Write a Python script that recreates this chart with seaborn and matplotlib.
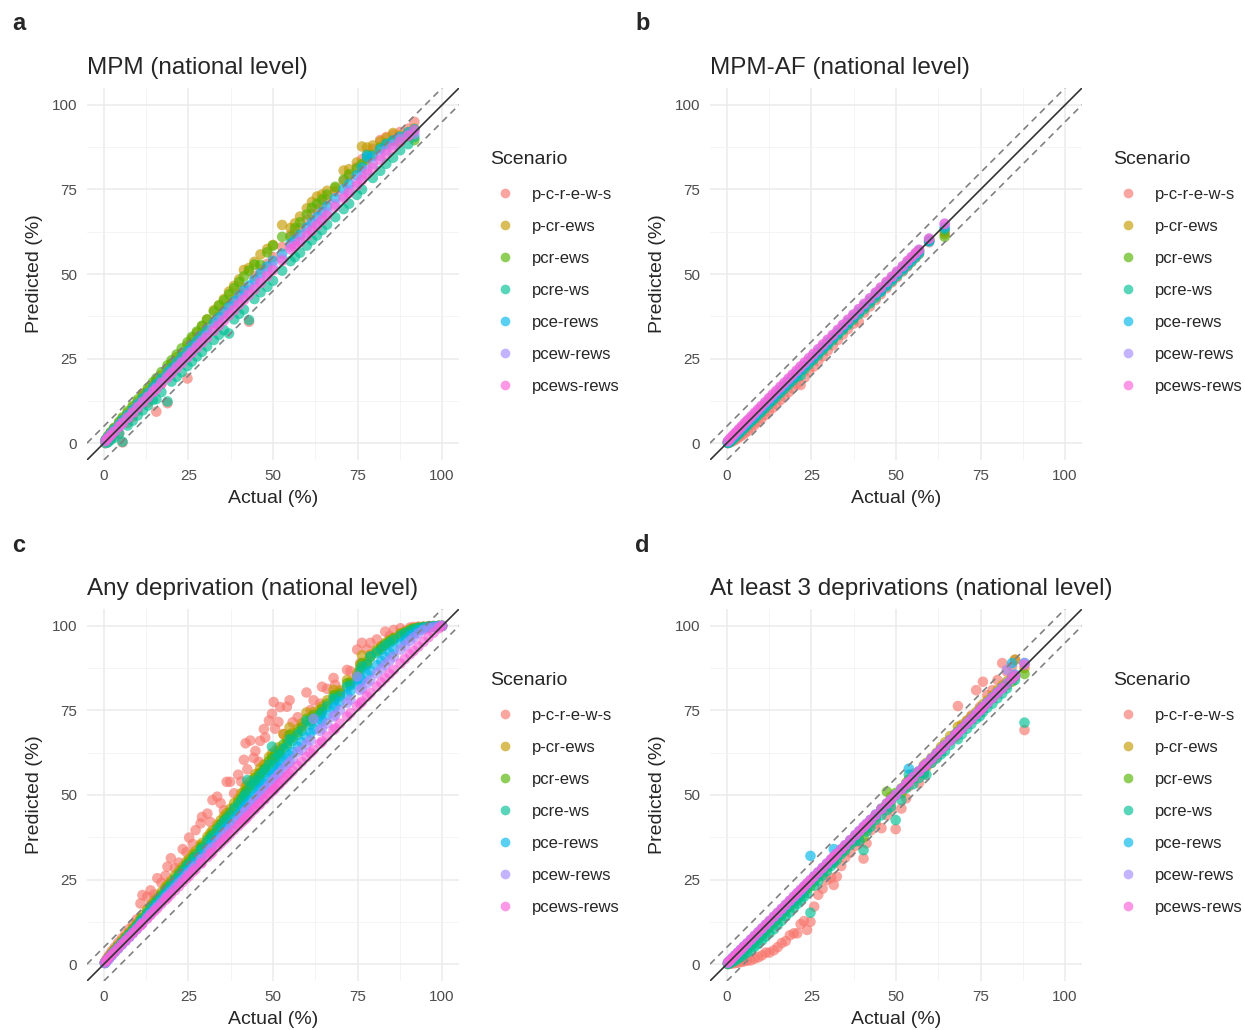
import matplotlib
matplotlib.use("Agg")
import matplotlib.pyplot as plt
import seaborn as sns
import pandas as pd
from matplotlib.lines import Line2D
from matplotlib.ticker import MultipleLocator

sns.set_style("white")
plt.rcParams["font.family"] = ["Liberation Sans", "DejaVu Sans"]

# ---------------- shared ----------------
scenarios = ["p-c-r-e-w-s", "p-cr-ews", "pcr-ews", "pcre-ws", "pce-rews", "pcew-rews", "pcews-rews"]
palette = ["#F8766D", "#C49A00", "#53B400", "#00C094", "#00B6EB", "#A58AFF", "#FB61D7"]
ticks = [0, 25, 50, 75, 100]
tick_labels = ["0", "25", "50", "75", "100"]

# ---------------- panel a: MPM ----------------
a_actual = [0.5, 1.2, 2.0, 3.0, 4.5, 5.5, 7.0, 8.5, 10.0, 11.5,
            13.0, 14.5, 15.5, 17.0, 18.8, 20.0, 21.5, 23.0, 24.7, 26.0,
            27.5, 29.0, 30.5, 32.5, 34.0, 35.5, 37.0, 38.5, 40.0, 41.4,
            42.9, 44.5, 46.3, 48.3, 50.0, 52.7, 55.2, 56.5, 58.0, 60.0,
            61.5, 63.0, 64.5, 66.0, 68.4, 70.9, 72.5, 74.8, 76.3, 77.8,
            79.5, 81.7, 83.5, 85.5, 87.6, 90.0, 91.8]
a_p_c_r_e_w_s = [0.0, 0.6, 1.4, 2.2, 2.8, 0.2, 6.0, 7.8, 9.6, 14.7,
                 12.0, 15.8, 9.3, 17.5, 11.8, 21.0, 23.0, 24.8, 19.1, 28.2,
                 30.0, 31.5, 33.4, 35.5, 37.4, 39.0, 40.8, 42.6, 44.2, 46.0,
                 35.9, 49.3, 51.3, 53.0, 55.0, 58.0, 61.5, 62.0, 63.6, 66.0,
                 67.8, 69.1, 70.5, 72.0, 74.4, 77.5, 79.0, 81.6, 83.9, 85.5,
                 87.0, 89.6, 90.5, 91.2, 92.0, 93.0, 95.0]
a_p_cr_ews = [1.0, 2.0, 3.1, 4.3, 6.0, 7.2, 8.9, 10.6, 12.3, 13.9,
              15.6, 17.2, 18.4, 20.1, 22.1, 23.6, 25.4, 26.6, 29.0, 30.8,
              32.6, 34.5, 36.6, 39.3, 40.8, 42.6, 44.8, 46.5, 48.4, 51.2,
              51.8, 53.6, 55.8, 57.4, 58.6, 64.5, 63.6, 65.0, 67.0, 69.4,
              71.3, 72.9, 73.5, 74.6, 75.4, 80.6, 81.0, 83.0, 87.7, 87.4,
              88.0, 89.2, 90.2, 91.7, 91.0, 92.0, 93.0]
a_pcr_ews = [0.9, 2.0, 3.2, 4.5, 6.3, 7.6, 9.4, 11.0, 12.9, 14.5,
             16.3, 18.0, 19.2, 21.0, 23.0, 24.5, 26.2, 28.0, 29.8, 31.4,
             33.0, 34.7, 36.5, 38.9, 40.6, 42.2, 44.0, 45.8, 47.6, 49.3,
             51.0, 52.8, 52.7, 56.4, 58.4, 61.0, 61.0, 63.5, 65.3, 67.6,
             69.6, 70.8, 72.0, 73.5, 75.8, 77.9, 79.5, 81.2, 82.5, 83.7,
             85.2, 87.4, 88.6, 89.4, 89.1, 90.8, 89.6]
a_pcre_ws = [0.0, 0.2, 0.9, 1.6, 2.9, 0.4, 5.2, 6.6, 8.2, 9.7,
             11.1, 12.8, 13.0, 15.1, 12.3, 18.2, 19.6, 21.0, 22.8, 24.1,
             25.6, 27.0, 28.6, 30.5, 32.0, 33.4, 32.4, 36.6, 38.2, 39.5,
             36.4, 42.6, 44.6, 46.2, 48.0, 51.0, 53.8, 55.0, 56.3, 58.4,
             60.0, 61.4, 63.0, 64.6, 66.8, 69.2, 70.8, 73.4, 75.0, 85.2,
             78.4, 80.5, 82.6, 84.4, 86.6, 88.4, 90.5]
a_pce_rews = [0.9, 1.8, 2.8, 4.0, 5.5, 6.8, 8.3, 9.9, 11.6, 13.2,
              14.8, 16.3, 17.5, 19.1, 20.9, 22.2, 23.8, 25.5, 27.2, 28.7,
              30.2, 31.8, 33.4, 35.6, 37.1, 38.6, 40.3, 41.9, 43.5, 45.1,
              46.6, 48.3, 50.2, 52.2, 53.9, 56.0, 59.0, 60.1, 61.6, 63.7,
              65.2, 66.8, 68.3, 70.0, 72.4, 75.1, 76.6, 79.2, 81.5, 84.6,
              84.8, 86.9, 88.4, 89.5, 90.6, 91.9, 92.8]
a_pcew_rews = [0.7, 1.5, 2.4, 3.5, 5.0, 6.1, 7.6, 9.2, 10.8, 12.3,
               13.8, 15.3, 16.4, 18.0, 19.7, 21.0, 22.6, 24.1, 25.8, 27.2,
               28.8, 30.3, 31.8, 33.9, 35.4, 36.9, 38.5, 40.0, 41.6, 43.0,
               44.6, 46.2, 48.0, 50.1, 52.0, 54.6, 58.0, 58.9, 60.2, 62.1,
               63.6, 65.0, 66.5, 68.2, 70.6, 73.0, 74.8, 77.0, 78.9, 80.7,
               82.6, 84.9, 86.6, 88.2, 89.9, 91.0, 91.5]
a_pcews_rews = [0.6, 1.4, 2.3, 3.3, 4.8, 5.9, 7.4, 8.9, 10.5, 12.0,
                13.5, 15.0, 16.0, 17.6, 19.3, 20.6, 22.1, 23.6, 25.3, 26.7,
                28.2, 29.7, 31.2, 33.2, 34.7, 36.2, 37.8, 39.3, 40.9, 42.3,
                43.8, 45.4, 47.3, 49.3, 51.1, 53.9, 57.3, 58.2, 59.4, 61.3,
                62.8, 64.3, 65.8, 67.3, 69.8, 72.3, 73.9, 76.1, 77.8, 79.6,
                81.4, 83.7, 85.5, 87.3, 89.1, 90.8, 92.5]

# ---------------- panel b: MPM-AF ----------------
b_actual = [0.3, 1.0, 1.8, 2.6, 3.5, 4.4, 5.3, 6.2, 7.2, 8.2,
            9.2, 10.2, 11.3, 12.4, 13.5, 14.6, 15.8, 17.0, 18.2, 19.4,
            20.6, 21.8, 23.0, 24.3, 25.6, 27.0, 28.4, 29.8, 31.3, 32.8,
            34.3, 35.8, 37.4, 39.0, 40.6, 42.3, 44.0, 45.5, 47.2, 48.8,
            50.3, 52.0, 53.4, 54.6, 55.8, 56.8, 59.8, 64.4]
b_p_c_r_e_w_s = [0.0, 0.2, 0.6, 1.0, 1.6, 2.2, 2.9, 3.6, 4.5, 5.4,
                 6.3, 7.3, 8.3, 9.3, 10.4, 11.5, 12.7, 13.8, 15.0, 16.2,
                 17.4, 17.2, 19.4, 21.3, 22.6, 24.2, 25.7, 27.3, 28.9, 30.5,
                 32.1, 33.7, 35.3, 35.9, 38.6, 40.4, 42.3, 44.0, 45.8, 47.5,
                 49.0, 50.7, 52.2, 53.5, 54.8, 55.9, 59.4, 62.5]
b_p_cr_ews = [0.2, 0.8, 1.6, 2.4, 3.3, 4.2, 5.1, 6.0, 7.0, 8.0,
              9.0, 10.0, 11.1, 12.2, 13.3, 14.4, 15.6, 16.8, 18.0, 19.2,
              20.4, 21.6, 22.8, 24.1, 25.4, 26.8, 28.2, 29.6, 31.1, 32.6,
              34.1, 35.6, 37.2, 38.8, 40.4, 42.1, 43.8, 45.4, 47.0, 48.7,
              50.2, 51.8, 53.3, 54.5, 55.8, 56.9, 60.1, 61.8]
b_pcr_ews = [0.1, 0.6, 1.4, 2.2, 3.1, 4.0, 4.9, 5.8, 6.8, 7.8,
             8.8, 9.8, 10.9, 12.0, 13.1, 14.2, 15.4, 16.6, 17.8, 19.0,
             20.2, 21.4, 22.6, 23.9, 25.2, 26.6, 28.0, 29.4, 30.9, 32.4,
             33.9, 35.4, 37.0, 38.6, 40.2, 41.9, 43.6, 45.2, 46.9, 48.5,
             50.0, 51.7, 53.1, 54.3, 55.5, 56.6, 59.9, 61.0]
b_pcre_ws = [0.0, 0.3, 1.0, 1.8, 2.6, 3.5, 4.4, 5.3, 6.3, 7.2,
             8.2, 9.2, 10.3, 11.4, 12.5, 13.6, 14.8, 16.0, 17.2, 18.4,
             19.5, 20.0, 21.9, 23.3, 24.6, 26.0, 27.5, 28.9, 30.4, 31.9,
             33.4, 34.9, 36.5, 38.1, 39.6, 41.3, 43.0, 44.7, 46.3, 47.9,
             49.4, 51.0, 52.4, 53.7, 54.9, 56.0, 59.8, 63.2]
b_pce_rews = [0.2, 0.9, 1.7, 2.5, 3.4, 4.3, 5.2, 6.1, 7.1, 8.1,
              9.1, 10.1, 11.2, 12.3, 13.4, 14.5, 15.7, 16.9, 18.1, 19.3,
              20.5, 21.7, 22.9, 24.2, 25.5, 26.9, 28.3, 29.7, 31.2, 32.7,
              34.2, 35.7, 37.3, 38.9, 40.5, 42.2, 43.9, 45.0, 46.8, 48.5,
              50.0, 51.6, 53.1, 54.3, 55.6, 56.6, 59.6, 63.8]
b_pcew_rews = [0.5, 1.3, 2.1, 3.0, 3.9, 4.8, 5.8, 6.7, 7.7, 8.7,
               9.7, 10.8, 11.9, 13.0, 14.1, 15.2, 16.4, 17.6, 18.8, 20.0,
               21.2, 22.4, 23.6, 24.9, 26.2, 27.6, 29.0, 30.4, 31.9, 33.4,
               34.9, 36.4, 38.0, 39.6, 41.1, 42.8, 44.5, 46.0, 47.6, 49.2,
               50.7, 52.3, 53.8, 55.0, 56.2, 57.2, 60.5, 64.9]
b_pcews_rews = [0.6, 1.4, 2.3, 3.1, 4.1, 5.0, 6.0, 6.9, 7.9, 9.0,
                10.0, 11.0, 12.1, 13.3, 14.4, 15.5, 16.7, 17.9, 19.1, 20.3,
                21.5, 22.7, 23.9, 25.2, 26.4, 27.8, 29.2, 30.6, 32.0, 33.5,
                35.0, 36.5, 38.0, 39.6, 41.2, 42.8, 44.5, 46.0, 47.7, 49.2,
                50.7, 52.3, 53.8, 55.0, 56.1, 57.1, 60.4, 64.8]

# ---------------- panel c: Any deprivation ----------------
c_actual = [0.3, 0.8, 1.5, 2.3, 3.2, 4.2, 5.3, 6.4, 7.5, 8.6,
            9.7, 10.8, 11.4, 12.8, 13.8, 14.9, 15.8, 17.0, 18.2, 18.8,
            19.8, 21.0, 22.2, 23.3, 24.4, 25.2, 26.3, 27.1, 28.6, 29.0,
            30.6, 31.5, 32.1, 33.5, 34.5, 35.5, 36.3, 37.3, 38.5, 39.7,
            40.6, 41.4, 41.9, 42.4, 43.3, 44.3, 44.8, 45.8, 46.2, 47.3,
            47.7, 48.8, 49.7, 50.2, 50.6, 51.6, 52.1, 53.1, 54.1, 54.9,
            55.8, 57.3, 58.5, 59.9, 61.1, 62.0, 63.9, 64.5, 66.0, 67.9,
            68.4, 69.8, 71.9, 72.9, 74.9, 75.8, 76.3, 77.8, 78.8, 80.7,
            82.0, 83.2, 84.5, 85.7, 87.7, 89.0, 90.5, 91.6, 93.0, 94.5,
            96.0, 97.5, 99.0, 100.0]
c_p_c_r_e_w_s = [0.5, 1.5, 2.6, 3.8, 4.9, 6.3, 7.6, 8.9, 10.4, 11.8,
                 13.2, 17.9, 20.4, 19.9, 21.8, 20.6, 25.4, 24.0, 26.1, 28.8,
                 31.3, 28.4, 30.0, 34.0, 33.1, 37.4, 35.5, 39.6, 41.6, 43.5,
                 44.5, 42.0, 48.5, 49.5, 47.6, 45.5, 53.9, 53.9, 50.5, 56.0,
                 54.0, 60.4, 65.3, 57.6, 66.1, 61.0, 63.0, 59.8, 66.0, 69.5,
                 67.0, 72.0, 74.0, 77.5, 69.6, 71.6, 76.0, 68.0, 76.1, 78.0,
                 71.5, 73.0, 70.5, 80.3, 75.1, 78.0, 77.0, 82.0, 81.4, 84.6,
                 82.6, 80.5, 87.0, 86.6, 93.0, 89.0, 95.0, 93.0, 95.0, 96.0,
                 94.0, 98.3, 97.0, 98.8, 99.3, 98.5, 99.5, 99.7, 99.8, 99.8,
                 99.9, 100.0, 100.0, 100.0]
c_p_cr_ews = [0.4, 1.2, 2.2, 3.3, 4.4, 5.6, 6.9, 8.1, 9.4, 10.6,
              11.9, 13.5, 14.5, 16.2, 17.4, 18.8, 19.7, 21.3, 22.8, 23.4,
              24.6, 26.2, 27.5, 28.8, 30.3, 31.2, 32.6, 33.5, 35.2, 35.8,
              37.7, 38.8, 39.5, 41.2, 42.5, 43.8, 44.6, 45.9, 47.6, 48.8,
              50.5, 51.0, 52.5, 52.8, 54.0, 55.0, 56.2, 56.4, 57.9, 59.0,
              58.8, 61.2, 62.3, 60.8, 63.0, 64.1, 63.5, 68.0, 66.5, 70.0,
              68.4, 69.5, 71.2, 74.4, 72.8, 74.5, 75.4, 76.2, 78.0, 81.1,
              79.8, 81.0, 84.0, 83.5, 86.0, 88.5, 91.3, 89.5, 91.5, 93.0,
              94.0, 95.0, 95.8, 96.5, 97.8, 98.2, 99.0, 99.3, 99.5, 99.7,
              99.8, 99.9, 100.0, 100.0]
c_pcr_ews = [0.4, 1.1, 2.0, 3.0, 4.1, 5.3, 6.5, 7.8, 9.0, 10.2,
             11.5, 12.9, 13.7, 15.4, 16.6, 18.0, 19.0, 20.6, 22.0, 22.7,
             23.9, 25.3, 26.8, 28.0, 29.4, 30.3, 31.6, 32.5, 34.3, 34.8,
             36.8, 37.8, 38.5, 40.2, 41.4, 42.6, 43.5, 44.8, 46.3, 47.8,
             49.0, 49.8, 51.0, 51.5, 52.8, 53.6, 55.0, 55.2, 56.4, 57.5,
             57.8, 60.0, 61.0, 59.6, 61.8, 62.9, 62.4, 65.0, 65.2, 67.8,
             67.0, 68.6, 70.0, 72.5, 71.8, 73.6, 74.2, 75.3, 77.0, 79.5,
             79.0, 80.0, 83.0, 83.0, 85.2, 87.5, 89.0, 88.8, 90.8, 92.5,
             93.5, 94.6, 95.5, 96.3, 97.5, 98.0, 98.8, 99.2, 99.5, 99.7,
             99.8, 99.9, 100.0, 100.0]
c_pcre_ws = [0.4, 1.0, 1.9, 2.9, 3.9, 5.0, 6.3, 7.5, 8.7, 9.9,
             11.2, 12.6, 13.3, 15.0, 16.2, 17.5, 18.5, 20.0, 21.5, 22.1,
             23.3, 24.8, 26.1, 27.4, 28.8, 29.6, 31.0, 31.8, 33.6, 34.2,
             36.2, 37.0, 37.9, 39.6, 40.7, 42.0, 42.8, 44.0, 45.8, 47.0,
             48.3, 49.5, 50.3, 54.4, 52.0, 53.0, 54.3, 54.0, 55.8, 56.5,
             57.5, 59.0, 64.3, 58.8, 60.8, 62.0, 61.5, 63.6, 64.3, 66.5,
             66.0, 67.8, 69.0, 71.8, 70.8, 72.6, 73.5, 74.5, 76.2, 78.5,
             78.2, 79.2, 82.0, 82.4, 84.5, 86.5, 88.0, 88.4, 91.0, 92.0,
             93.0, 94.2, 95.0, 95.8, 97.0, 97.8, 98.5, 99.0, 99.4, 99.6,
             99.8, 99.9, 100.0, 100.0]
c_pce_rews = [0.3, 0.9, 1.7, 2.6, 3.6, 4.7, 5.9, 7.0, 8.2, 9.4,
              10.6, 11.9, 12.6, 14.2, 15.3, 16.6, 17.6, 19.0, 20.3, 20.9,
              22.0, 23.4, 24.7, 25.9, 27.1, 28.0, 29.3, 30.1, 31.8, 32.3,
              34.1, 35.1, 35.8, 37.3, 38.4, 39.5, 40.4, 41.5, 42.9, 44.2,
              45.2, 46.2, 46.8, 47.4, 48.4, 49.5, 50.1, 51.3, 51.8, 53.0,
              53.5, 54.8, 55.8, 56.3, 56.8, 58.0, 58.6, 59.7, 60.8, 61.7,
              62.7, 64.3, 65.6, 67.1, 68.4, 69.4, 71.4, 72.0, 73.6, 75.6,
              76.1, 77.6, 79.7, 80.7, 82.7, 83.6, 84.1, 85.6, 86.6, 88.4,
              89.6, 90.8, 92.0, 93.0, 94.8, 95.8, 97.0, 97.8, 98.7, 99.3,
              99.6, 99.8, 99.9, 100.0]
c_pcew_rews = [0.3, 0.9, 1.6, 2.5, 3.5, 4.5, 5.7, 6.8, 7.9, 9.1,
               10.3, 11.5, 12.2, 13.7, 14.8, 16.0, 17.0, 18.3, 19.6, 20.2,
               21.3, 22.6, 23.9, 25.0, 26.2, 27.1, 28.3, 29.1, 30.8, 31.2,
               33.0, 34.0, 34.6, 36.1, 37.2, 38.2, 39.1, 40.2, 41.5, 42.8,
               43.8, 44.7, 45.3, 45.8, 46.8, 47.9, 48.4, 49.5, 50.0, 51.2,
               51.7, 52.9, 53.9, 54.5, 54.9, 56.0, 56.5, 57.6, 58.7, 59.5,
               60.5, 62.7, 63.3, 65.0, 66.2, 72.5, 69.0, 69.7, 71.2, 73.2,
               73.6, 75.1, 77.2, 78.2, 85.0, 81.0, 81.5, 83.0, 84.0, 86.0,
               87.3, 88.5, 89.8, 90.9, 93.0, 94.2, 95.6, 96.6, 97.8, 98.8,
               99.3, 99.6, 99.9, 100.0]
c_pcews_rews = [0.5, 1.1, 1.9, 2.8, 3.7, 4.8, 5.9, 7.0, 8.1, 9.2,
                10.3, 11.4, 12.0, 13.4, 14.5, 15.6, 16.5, 17.8, 19.0, 19.6,
                20.6, 21.8, 23.0, 24.2, 25.3, 26.1, 27.3, 28.0, 29.6, 30.0,
                31.6, 32.5, 33.1, 34.6, 35.6, 36.6, 37.4, 38.4, 39.6, 40.8,
                41.7, 42.5, 43.0, 43.5, 44.4, 45.5, 46.0, 47.0, 47.4, 48.5,
                48.9, 50.1, 51.0, 51.5, 51.9, 52.9, 53.4, 54.4, 55.4, 56.2,
                57.1, 58.6, 59.8, 61.2, 62.4, 63.3, 65.2, 65.8, 67.3, 69.2,
                69.7, 71.1, 73.2, 74.2, 76.2, 77.1, 77.6, 79.1, 80.1, 82.0,
                83.3, 84.5, 85.8, 87.0, 88.9, 90.2, 91.6, 92.6, 93.9, 95.3,
                96.7, 98.0, 99.3, 100.0]

# ---------------- panel d: At least 3 deprivations ----------------
d_actual = [0.3, 0.9, 1.6, 2.4, 3.2, 4.1, 5.0, 6.0, 7.1, 8.2,
            9.3, 10.4, 11.5, 12.6, 13.9, 15.0, 16.2, 17.4, 18.6, 19.8,
            20.8, 21.8, 22.8, 23.7, 24.7, 25.8, 27.0, 28.3, 29.6, 30.8,
            31.6, 32.5, 33.8, 35.0, 36.5, 38.0, 39.2, 40.4, 41.3, 42.5,
            44.0, 45.7, 47.3, 48.5, 49.9, 51.6, 53.0, 53.8, 55.1, 56.8,
            58.2, 59.0, 60.5, 62.0, 63.3, 64.5, 66.0, 67.5, 68.3, 69.5,
            71.0, 72.3, 73.7, 74.8, 75.7, 77.0, 78.5, 80.0, 81.4, 82.8,
            84.3, 85.2, 88.0]
d_p_c_r_e_w_s = [0.0, 0.1, 0.2, 0.3, 0.4, 0.6, 0.8, 1.0, 1.1, 1.6,
                 2.0, 2.6, 3.4, 3.4, 4.1, 5.0, 6.2, 6.8, 8.5, 9.1,
                 9.1, 11.8, 12.7, 10.1, 12.5, 17.0, 20.5, 22.3, 24.9, 25.5,
                 23.4, 25.9, 29.0, 31.5, 33.0, 35.0, 36.2, 31.2, 35.7, 39.5,
                 41.5, 40.2, 44.0, 46.0, 39.9, 46.0, 49.0, 52.5, 56.3, 53.5,
                 56.0, 58.3, 59.5, 61.0, 62.8, 64.5, 66.0, 67.0, 76.3, 70.3,
                 72.0, 73.5, 81.0, 76.0, 83.5, 79.5, 81.0, 84.0, 89.0, 86.5,
                 88.0, 90.0, 69.2]
d_p_cr_ews = [0.2, 0.6, 1.2, 1.9, 2.6, 3.4, 4.2, 5.1, 6.2, 7.2,
              8.3, 9.4, 10.5, 11.6, 12.9, 14.0, 15.3, 16.5, 17.7, 19.0,
              20.0, 21.0, 22.0, 22.9, 23.9, 25.1, 26.4, 27.8, 29.1, 30.3,
              31.2, 32.2, 33.5, 34.8, 36.3, 37.8, 39.0, 39.8, 41.0, 42.5,
              44.0, 45.6, 47.5, 49.5, 50.0, 52.0, 53.6, 54.5, 55.5, 57.0,
              58.8, 59.5, 61.0, 62.5, 64.2, 65.6, 67.4, 68.0, 70.2, 70.8,
              72.0, 73.2, 74.5, 75.5, 76.8, 78.0, 79.5, 81.0, 82.4, 83.6,
              85.0, 90.0, 87.5]
d_pcr_ews = [0.1, 0.5, 1.0, 1.6, 2.3, 3.0, 3.7, 4.6, 5.6, 6.6,
             7.6, 8.7, 9.8, 10.9, 12.2, 13.3, 14.6, 15.8, 17.0, 18.3,
             19.3, 20.3, 21.3, 22.2, 23.0, 24.5, 25.8, 27.2, 28.5, 29.8,
             30.6, 31.6, 33.0, 34.2, 35.8, 37.2, 38.5, 37.5, 40.0, 41.8,
             43.5, 46.0, 51.0, 48.0, 50.6, 50.5, 52.5, 54.5, 54.8, 56.5,
             58.0, 58.6, 60.5, 62.0, 63.4, 64.8, 66.2, 67.5, 68.8, 69.6,
             71.0, 72.3, 73.8, 74.5, 75.6, 77.0, 78.6, 80.0, 81.6, 82.5,
             83.5, 85.0, 85.8]
d_pcre_ws = [0.0, 0.3, 0.6, 1.0, 1.5, 2.1, 2.7, 3.4, 4.2, 5.1,
             6.0, 7.0, 8.1, 9.1, 10.3, 11.5, 12.8, 14.1, 15.3, 16.6,
             17.8, 18.8, 19.9, 21.0, 15.2, 23.2, 24.6, 26.2, 27.5, 29.0,
             29.9, 30.8, 32.5, 33.6, 35.2, 36.3, 36.5, 33.7, 39.2, 40.6,
             42.6, 44.0, 45.5, 46.5, 42.6, 48.5, 52.0, 56.0, 53.2, 55.0,
             56.5, 56.0, 59.5, 60.8, 62.0, 63.0, 64.8, 67.7, 66.5, 68.0,
             69.6, 71.0, 72.5, 73.3, 74.5, 75.8, 77.0, 78.6, 80.0, 81.5,
             84.5, 84.0, 71.4]
d_pce_rews = [0.4, 1.0, 1.7, 2.5, 3.3, 4.2, 5.1, 6.0, 7.1, 8.1,
              9.2, 10.3, 11.4, 12.5, 13.7, 14.8, 16.0, 17.2, 18.4, 19.6,
              20.6, 21.6, 22.6, 23.6, 32.0, 25.8, 27.0, 28.3, 29.6, 30.8,
              34.0, 32.6, 33.9, 35.1, 36.6, 38.1, 39.3, 40.5, 41.4, 42.6,
              44.2, 45.8, 47.4, 48.6, 50.0, 51.8, 53.2, 57.8, 55.3, 57.0,
              58.4, 59.2, 60.7, 62.2, 63.5, 64.7, 66.2, 67.7, 68.5, 69.7,
              71.2, 72.5, 73.9, 75.0, 76.0, 77.3, 78.8, 80.3, 81.7, 83.0,
              89.0, 85.6, 89.0]
d_pcew_rews = [0.5, 1.1, 1.8, 2.6, 3.4, 4.3, 5.2, 6.2, 7.3, 8.4,
               9.5, 10.6, 11.7, 12.8, 14.1, 15.2, 16.4, 17.6, 18.8, 20.0,
               21.0, 22.0, 23.0, 23.9, 24.9, 26.0, 27.2, 28.5, 29.8, 31.0,
               31.8, 32.7, 34.0, 35.2, 36.7, 38.2, 39.4, 40.6, 41.5, 42.7,
               44.2, 45.9, 47.5, 48.7, 50.1, 51.8, 53.2, 54.0, 55.3, 57.0,
               58.4, 59.2, 60.7, 62.2, 63.5, 64.7, 66.2, 67.7, 68.5, 69.7,
               71.2, 72.5, 73.9, 75.0, 76.0, 77.3, 78.8, 80.3, 81.6, 87.0,
               84.5, 85.4, 89.0]
d_pcews_rews = [0.4, 1.0, 1.7, 2.5, 3.3, 4.2, 5.1, 6.1, 7.2, 8.3,
                9.4, 10.5, 11.6, 12.7, 14.0, 15.1, 16.3, 17.5, 18.7, 19.9,
                20.9, 21.9, 22.9, 23.8, 24.8, 25.9, 27.1, 28.4, 29.7, 30.9,
                31.7, 32.6, 33.9, 35.1, 36.6, 38.1, 39.3, 40.5, 41.4, 42.6,
                44.1, 45.8, 47.4, 48.6, 50.0, 51.7, 53.1, 53.9, 55.2, 56.9,
                58.3, 59.1, 60.6, 62.1, 63.4, 64.6, 66.1, 67.6, 68.4, 69.6,
                71.1, 72.4, 73.8, 74.9, 75.8, 77.1, 78.6, 80.1, 81.5, 82.9,
                84.4, 85.3, 88.5]


def build(actual, preds):
    frames = [pd.DataFrame({"actual": actual, "predicted": p, "scenario": name})
              for name, p in zip(scenarios, preds)]
    return pd.concat(frames, ignore_index=True)


df_a = build(a_actual, [a_p_c_r_e_w_s, a_p_cr_ews, a_pcr_ews, a_pcre_ws, a_pce_rews, a_pcew_rews, a_pcews_rews])
df_b = build(b_actual, [b_p_c_r_e_w_s, b_p_cr_ews, b_pcr_ews, b_pcre_ws, b_pce_rews, b_pcew_rews, b_pcews_rews])
df_c = build(c_actual, [c_p_c_r_e_w_s, c_p_cr_ews, c_pcr_ews, c_pcre_ws, c_pce_rews, c_pcew_rews, c_pcews_rews])
df_d = build(d_actual, [d_p_c_r_e_w_s, d_p_cr_ews, d_pcr_ews, d_pcre_ws, d_pce_rews, d_pcew_rews, d_pcews_rews])

W, H = 1245, 1030
fig = plt.figure(figsize=(W / 100, H / 100), dpi=100)

panels = [
    ("a", "MPM (national level)", df_a, 87, 88, 12, 24, 490, 151),
    ("b", "MPM-AF (national level)", df_b, 710, 88, 635, 24, 1113, 151),
    ("c", "Any deprivation (national level)", df_c, 87, 609, 12, 546, 490, 672),
    ("d", "At least 3 deprivations (national level)", df_d, 710, 609, 635, 546, 1113, 672),
]

SIZE = 372
for tag, title, df, left, top, tx, ty, lx, ly in panels:
    ax = fig.add_axes([left / W, 1 - (top + SIZE) / H, SIZE / W, SIZE / H])
    sns.scatterplot(data=df, x="actual", y="predicted", hue="scenario",
                    hue_order=scenarios, palette=palette, s=58, alpha=0.65,
                    linewidth=0, legend=False, ax=ax, zorder=2)
    ax.axline((0, 0), (1, 1), color="#333333", lw=1.2, zorder=4)
    ax.axline((0, 5), (1, 6), color="#808080", lw=1.2, ls=(0, (4, 3)), zorder=3)
    ax.axline((0, -5), (1, -4), color="#808080", lw=1.2, ls=(0, (4, 3)), zorder=3)
    ax.set_xlim(-5, 105)
    ax.set_ylim(-5, 105)
    ax.set_xticks(ticks)
    ax.set_xticklabels(tick_labels)
    ax.set_yticks(ticks)
    ax.set_yticklabels(tick_labels)
    ax.xaxis.set_minor_locator(MultipleLocator(12.5))
    ax.yaxis.set_minor_locator(MultipleLocator(12.5))
    ax.grid(which="major", color="#EBEBEB", lw=1.1)
    ax.grid(which="minor", color="#F2F2F2", lw=0.6)
    ax.set_axisbelow(True)
    for s in ax.spines.values():
        s.set_visible(False)
    ax.tick_params(which="both", length=0, labelsize=11, labelcolor="#4D4D4D")
    ax.tick_params(axis="x", pad=6.5)
    ax.tick_params(axis="y", pad=7)
    ax.set_xlabel("Actual (%)", fontsize=14, labelpad=5)
    ax.set_ylabel("Predicted (%)", fontsize=14, labelpad=6)
    ax.set_title(title, loc="left", fontsize=17.5, pad=10)
    fig.text(tx / W, 1 - ty / H, tag, fontsize=17, fontweight="bold", va="center", ha="left")

    handles = [Line2D([], [], marker="o", ls="", markersize=7, markerfacecolor=c,
                      markeredgewidth=0, alpha=0.65) for c in palette]
    leg = ax.legend(handles, scenarios, title="Scenario", loc="upper left",
                    bbox_to_anchor=(lx / W, 1 - ly / H), bbox_transform=fig.transFigure,
                    frameon=False, fontsize=12, title_fontsize=14, handlelength=1.8,
                    handletextpad=0.72, labelspacing=1.02, borderpad=0, borderaxespad=0)
    leg._legend_box.align = "left"
    leg._legend_box.sep = 13.5

fig.savefig("out.png", dpi=100)
